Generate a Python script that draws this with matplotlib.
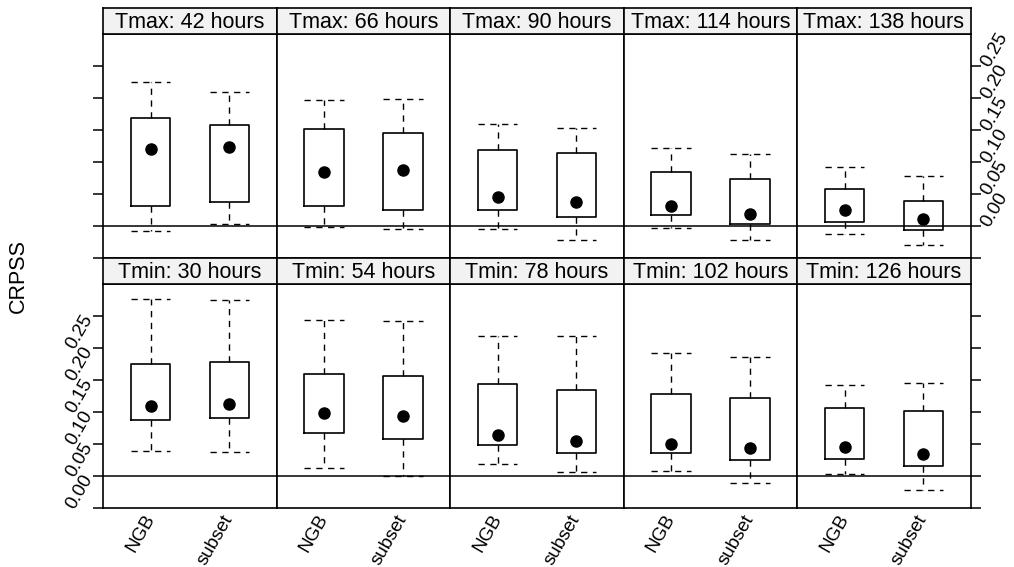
import matplotlib
matplotlib.use("Agg")
import matplotlib.pyplot as plt

plt.rcParams['font.family'] = ['Liberation Sans', 'DejaVu Sans']

panel_titles = ["Tmax: 42 hours", "Tmax: 66 hours", "Tmax: 90 hours", "Tmax: 114 hours", "Tmax: 138 hours",
                "Tmin: 30 hours", "Tmin: 54 hours", "Tmin: 78 hours", "Tmin: 102 hours", "Tmin: 126 hours"]
methods = ["NGB", "subset"]

ngb_lo  = [-0.009, -0.002, -0.005, -0.003, -0.0125, 0.0386, 0.012, 0.019, 0.0078, 0.0027]
ngb_q1  = [0.031, 0.030, 0.024, 0.016, 0.005, 0.0865, 0.066, 0.048, 0.035, 0.026]
ngb_med = [0.120, 0.084, 0.045, 0.030, 0.0245, 0.109, 0.0975, 0.063, 0.049, 0.045]
ngb_q3  = [0.168, 0.151, 0.119, 0.084, 0.058, 0.1745, 0.159, 0.143, 0.127, 0.106]
ngb_hi  = [0.225, 0.196, 0.159, 0.121, 0.091, 0.276, 0.244, 0.219, 0.191, 0.142]

sub_lo  = [0.002, -0.005, -0.023, -0.022, -0.030, 0.037, 0.000, 0.006, -0.011, -0.022]
sub_q1  = [0.037, 0.025, 0.014, 0.002, -0.006, 0.0897, 0.058, 0.0355, 0.025, 0.0156]
sub_med = [0.123, 0.087, 0.0375, 0.019, 0.0105, 0.1125, 0.093, 0.054, 0.044, 0.034]
sub_q3  = [0.158, 0.145, 0.114, 0.0725, 0.038, 0.178, 0.155, 0.134, 0.122, 0.1006]
sub_hi  = [0.209, 0.198, 0.152, 0.1125, 0.077, 0.275, 0.241, 0.219, 0.186, 0.145]

ytick_vals = [-0.05, 0.00, 0.05, 0.10, 0.15, 0.20, 0.25]
ytick_labels = ["", "0.00", "0.05", "0.10", "0.15", "0.20", "0.25"]

W, H = 1014, 567
fig = plt.figure(figsize=(W / 100, H / 100), dpi=100)

FS = 15.5
TFS = 13.5
left, right = 103.3, 970.7
pw = (right - left) / 5
rows = [(8.3, 34.3, 257.7), (258.3, 284.3, 507.7)]  # strip top, body top, body bottom
lw = 1.2
ylim = (-0.05, 0.299)
dash = (0, (4.5, 4))

for r in range(2):
    st, bt, bb = rows[r]
    for c in range(5):
        i = r * 5 + c
        x0 = left + c * pw
        ax = fig.add_axes([x0 / W, 1 - bb / H, pw / W, (bb - bt) / H])
        ax.set_xlim(0.4, 2.6)
        ax.set_ylim(*ylim)
        stats = [
            dict(med=ngb_med[i], q1=ngb_q1[i], q3=ngb_q3[i], whislo=ngb_lo[i], whishi=ngb_hi[i], fliers=[], label=methods[0]),
            dict(med=sub_med[i], q1=sub_q1[i], q3=sub_q3[i], whislo=sub_lo[i], whishi=sub_hi[i], fliers=[], label=methods[1]),
        ]
        ax.bxp(stats, positions=[1, 2], widths=0.5, showfliers=False,
               boxprops=dict(color="black", linewidth=1.2),
               whiskerprops=dict(color="black", linewidth=1.0, linestyle=dash),
               capprops=dict(color="black", linewidth=1.0, linestyle=dash),
               medianprops=dict(linestyle="none"), capwidths=0.5)
        ax.plot([1, 2], [ngb_med[i], sub_med[i]], "o", color="black", markersize=8, zorder=5)
        ax.axhline(0, color="black", linewidth=1.1, zorder=1)
        for s in ax.spines.values():
            s.set_linewidth(lw)
        ax.set_yticks(ytick_vals)
        ax.tick_params(axis="y", direction="out", length=7.5, width=1.1)
        ax.tick_params(axis="x", length=0)
        if r == 1:
            ax.set_xticks([1, 2])
            ax.set_xticklabels(methods, rotation=60, ha="right", va="center",
                               rotation_mode="anchor", fontsize=TFS)
            ax.tick_params(axis="x", pad=6)
        else:
            ax.set_xticks([])
        if c == 0:
            ax.tick_params(axis="y", left=True, right=False)
            if r == 1:
                ax.set_yticklabels(ytick_labels, rotation=60, ha="right", va="center",
                                   rotation_mode="anchor", fontsize=TFS)
                ax.tick_params(axis="y", pad=3)
            else:
                ax.set_yticklabels([])
        elif c == 4:
            ax.yaxis.tick_right()
            ax.tick_params(axis="y", direction="out", length=7.5, width=1.1)
            if r == 0:
                ax.set_yticklabels(ytick_labels, rotation=60, ha="left", va="center",
                                   rotation_mode="anchor", fontsize=TFS)
                ax.tick_params(axis="y", pad=3)
            else:
                ax.set_yticklabels([])
        else:
            ax.tick_params(axis="y", left=False, right=False, labelleft=False)
        sax = fig.add_axes([x0 / W, 1 - bt / H, pw / W, (bt - st) / H])
        sax.set_xticks([]); sax.set_yticks([])
        sax.set_facecolor("#f2f2f2")
        for s in sax.spines.values():
            s.set_linewidth(lw)
        sax.text(0.5, 0.47, panel_titles[i], ha="center", va="center", fontsize=FS,
                 transform=sax.transAxes)

fig.text(18 / W, 1 - 276 / H, "CRPSS", rotation=90, ha="center", va="center", fontsize=FS)

fig.savefig("out.png", dpi=100)
